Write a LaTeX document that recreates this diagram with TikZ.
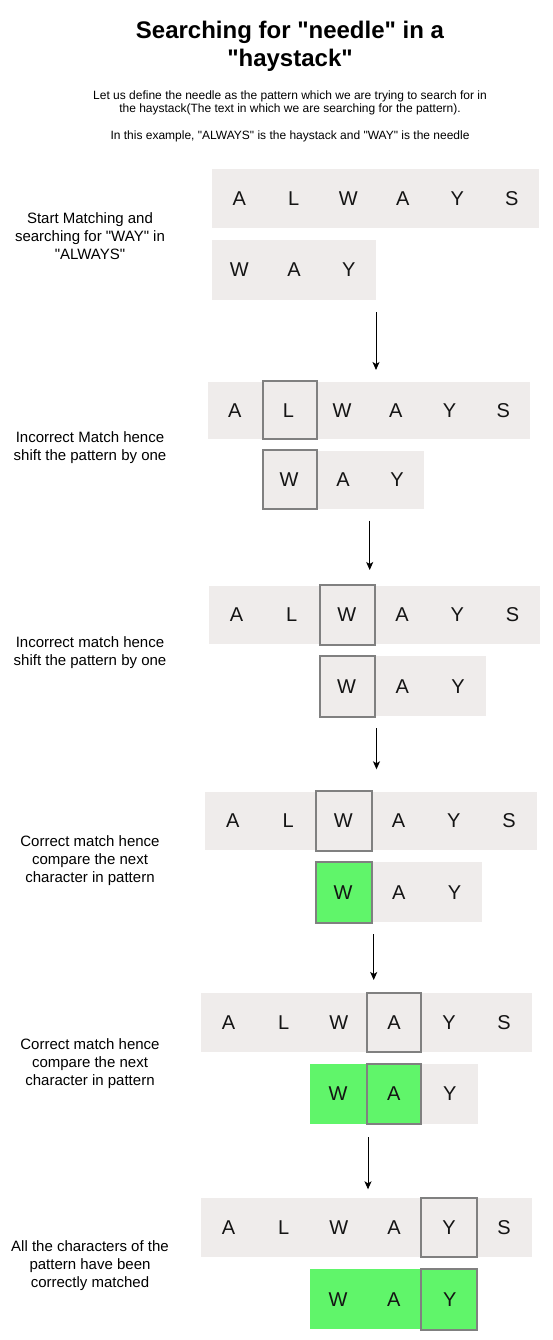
\documentclass[tikz,border=0pt]{standalone}
\usepackage{fontspec}
\defaultfontfeatures[\rmfamily,\sffamily]{}
\setmainfont{Liberation Sans}
\usetikzlibrary{arrows.meta}
\definecolor{cellbg}{RGB}{239,236,235}
\definecolor{boxline}{RGB}{128,128,128}
\definecolor{matchgreen}{RGB}{96,245,106}
\tikzset{
  cellchar/.style={inner sep=0pt, outer sep=0pt, text=black!92, font=\fontsize{20}{24}\selectfont},
  stripbox/.style={fill=cellbg, draw=none, inner sep=0pt, outer sep=0pt},
  greenbox/.style={fill=matchgreen, draw=none, inner sep=0pt, outer sep=0pt},
  hlbox/.style={draw=boxline, line width=2pt, inner sep=0pt, outer sep=0pt},
  rowtext/.style={align=center, inner sep=0pt, font=\fontsize{15}{18}\selectfont},
  flowarrow/.style={-{Stealth[length=8pt,width=7pt,inset=2pt]}, line width=1pt},
}
% strip: name, x1, y1, x2, y2, style
\newcommand{\blk}[6]{\node[#6, anchor=north west, minimum width={#4-#2}, minimum height={#5-#3}] (#1) at (#2,#3) {};}
% highlighted box: name, x1, y1, x2, y2 (outer extents), fill colour
\newcommand{\hbx}[6]{\node[hlbox, fill=#6, anchor=north west, minimum width={#4-#2-2}, minimum height={#5-#3-2}] (#1) at ({#2+1},{#3+1}) {};}
% letters: prefix, x left, cell width, y centre, list
\newcommand{\lettersrow}[5]{\foreach \ch [count=\i] in {#5} {\node[cellchar] (#1-\i) at ({#2+(\i-0.5)*#3},#4) {\ch};}}
\begin{document}
\begin{tikzpicture}[x=1pt,y=-1pt]
\useasboundingbox (0,0) rectangle (553,1340);
\fill[white] (0,0) rectangle (553,1340);

\node[font=\fontsize{24}{27.7}\selectfont\bfseries, align=center, inner sep=0pt] (title) at (290,46) {Searching for "needle" in a\\"haystack"};
\node[font=\fontsize{12}{13.3}\selectfont, align=center, inner sep=0pt] (intro) at (290,116) {Let us define the needle as the pattern which we are trying to search for in\\the haystack(The text in which we are searching for the pattern).\\[13.3pt]In this example, "ALWAYS" is the haystack and "WAY" is the needle};

% Row 1
\blk{hay1}{212}{169}{539}{228}{stripbox}
\blk{pat1}{212}{240}{376}{299.7}{stripbox}
\lettersrow{h1}{212}{54.5}{198.5}{A,L,W,A,Y,S}
\lettersrow{p1}{212}{54.67}{269.85}{W,A,Y}
\node[rowtext] (t1) at (90,236) {Start Matching and\\searching for "WAY" in\\"ALWAYS"};

% Row 2
\blk{hay2}{208}{382}{530}{439}{stripbox}
\blk{pat2}{262}{451}{424}{509}{stripbox}
\hbx{box2a}{262}{380.3}{318.3}{440.3}{cellbg}
\hbx{box2b}{262}{449.3}{318.3}{510.3}{cellbg}
\lettersrow{h2}{208}{53.67}{410.5}{A,L,W,A,Y,S}
\lettersrow{p2}{262}{54}{480}{W,A,Y}
\node[rowtext] (t2) at (90,448) {Incorrect Match hence\\shift the pattern by one};

% Row 3
\blk{hay3}{209}{585.7}{540}{644}{stripbox}
\blk{pat3}{318.7}{656.3}{486}{716.3}{stripbox}
\hbx{box3a}{318.7}{584}{376.3}{645.7}{cellbg}
\hbx{box3b}{318.7}{654.7}{376.3}{718}{cellbg}
\lettersrow{h3}{209}{55.17}{614.85}{A,L,W,A,Y,S}
\lettersrow{p3}{318.7}{55.77}{686.3}{W,A,Y}
\node[rowtext] (t3) at (90,652.3) {Incorrect match hence\\shift the pattern by one};

% Row 4
\blk{hay4}{205.3}{791.7}{536.7}{850.3}{stripbox}
\blk{pat4}{315.3}{862.3}{482.3}{922.3}{stripbox}
\hbx{box4a}{315.3}{790}{373}{851.7}{cellbg}
\hbx{box4b}{315.3}{861}{373}{924}{matchgreen}
\lettersrow{h4}{205.3}{55.23}{821}{A,L,W,A,Y,S}
\lettersrow{p4}{315.3}{55.67}{892.3}{W,A,Y}
\node[rowtext] (t4) at (90,860.3) {Correct match hence\\compare the next\\character in pattern};

% Row 5
\blk{hay5}{201}{993}{531.7}{1051.7}{stripbox}
\blk{pat5}{310}{1064}{477.7}{1124}{stripbox}
\blk{grn5}{310}{1064}{365.7}{1124}{greenbox}
\hbx{box5a}{365.7}{992}{422.3}{1053}{cellbg}
\hbx{box5b}{365.7}{1062.7}{422.3}{1125}{matchgreen}
\lettersrow{h5}{201}{55.12}{1022.35}{A,L,W,A,Y,S}
\lettersrow{p5}{310}{55.9}{1094}{W,A,Y}
\node[rowtext] (t5) at (90,1063.3) {Correct match hence\\compare the next\\character in pattern};

% Row 6
\blk{hay6}{201}{1198.3}{531.7}{1257}{stripbox}
\blk{pat6}{310}{1269.3}{477.7}{1329.3}{stripbox}
\blk{grn6}{310}{1269.3}{419.7}{1329.3}{greenbox}
\hbx{box6a}{419.7}{1197.3}{477.7}{1258.3}{cellbg}
\hbx{box6b}{419.7}{1268.3}{477.7}{1330.7}{matchgreen}
\lettersrow{h6}{201}{55.12}{1227.65}{A,L,W,A,Y,S}
\lettersrow{p6}{310}{55.9}{1299.3}{W,A,Y}
\node[rowtext] (t6) at (90,1266) {All the characters of the\\pattern have been\\correctly matched};

% Arrows
\coordinate (a1s) at (376,312.3);   \coordinate (a1e) at (376,370);
\coordinate (a2s) at (369.7,520.7); \coordinate (a2e) at (369.7,570);
\coordinate (a3s) at (376.5,728.3); \coordinate (a3e) at (376.5,769.3);
\coordinate (a4s) at (373.7,934);   \coordinate (a4e) at (373.7,980);
\coordinate (a5s) at (368,1137.3);  \coordinate (a5e) at (368,1189.3);
\draw[flowarrow] (a1s) -- (a1e);
\draw[flowarrow] (a2s) -- (a2e);
\draw[flowarrow] (a3s) -- (a3e);
\draw[flowarrow] (a4s) -- (a4e);
\draw[flowarrow] (a5s) -- (a5e);
\end{tikzpicture}
\end{document}
